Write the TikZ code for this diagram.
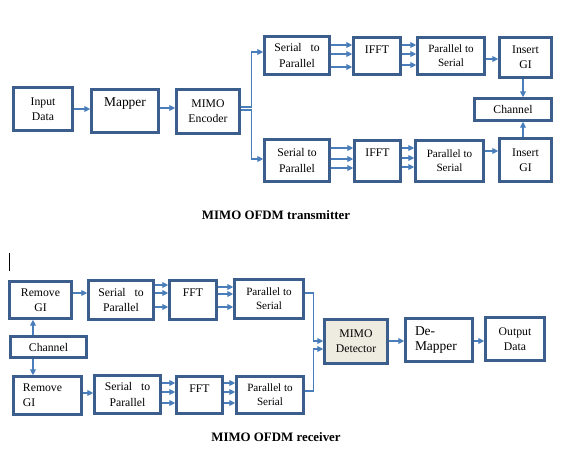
\documentclass[tikz,border=0pt]{standalone}
\usepackage{fontspec}
\setmainfont{Liberation Serif}
\usetikzlibrary{arrows.meta}
\definecolor{bordo}{HTML}{3B5E8C}
\definecolor{blufreccia}{HTML}{4A7EBB}
\definecolor{rilevatore}{HTML}{EEECE1}

\begin{document}
\begin{tikzpicture}[x=0.03cm, y=-0.03cm,
    font=\fontsize{10}{13}\selectfont,
    blocco/.style={draw=bordo, line width=2.2pt, fill=white, align=center, inner sep=1pt},
    misure/.style 2 args={minimum width=#1*0.03cm, minimum height=#2*0.03cm},
    sopra/.style={label={[anchor=north, inner sep=0pt, yshift=-0.27cm]north:#1}},
    freccia/.style={draw=blufreccia, line width=0.9pt, -{Triangle[length=5pt,width=5pt]}},
    ps/.style={font=\fontsize{9.5}{12}\selectfont},
    grande/.style={font=\fontsize{11.5}{13}\selectfont},
    titolo/.style={font=\fontsize{11}{13}\selectfont\bfseries}]
    \useasboundingbox (0,0) rectangle (563,449);

    % Trasmettitore
    \node[blocco, misure={59}{43}] (inp) at (43,109) {Input\\Data};
    \node[blocco, misure={67}{43}, label={[grande, anchor=north, inner sep=0pt, yshift=-0.27cm]north:Mapper}] (map) at (125,111) {};
    \node[blocco, misure={63}{44}] (enc) at (208,111.5) {MIMO\\Encoder};
    \node[blocco, misure={65}{38}] (sp1) at (297,55.5) {Serial~~ to\\Parallel};
    \node[blocco, misure={47}{37}, sopra=IFFT] (ifft1) at (377,56) {};
    \node[blocco, ps, misure={67}{37}] (ps1) at (451,56) {Parallel to\\Serial};
    \node[blocco, misure={52}{40}] (gi1) at (525.5,57.5) {Insert\\GI};
    \node[blocco, misure={77}{22}] (ch1) at (513,109.5) {Channel};
    \node[blocco, misure={65}{42}] (sp2) at (297,160.5) {Serial to\\Parallel};
    \node[blocco, misure={46}{41}, sopra=IFFT] (ifft2) at (377.5,161) {};
    \node[blocco, ps, misure={68}{41}] (ps2) at (449.5,161) {Parallel to\\Serial};
    \node[blocco, misure={52}{43}] (gi2) at (525.5,160) {Insert\\GI};
    \node[titolo] (ttx) at (276,215) {MIMO OFDM transmitter};

    \draw[freccia] (inp.east |- 0,109) -- (map.west |- 0,109);
    \draw[freccia] (map.east |- 0,108) -- (enc.west |- 0,108);
    \draw[freccia] (enc.east |- 0,107) -- ++(11,0) |- (sp1.west |- 0,52);
    \draw[freccia] (enc.east |- 0,110) -- ++(11,0) |- (sp2.west |- 0,159);
    \foreach \y in {45,54,67}
        \draw[freccia] (sp1.east |- 0,\y) -- (ifft1.west |- 0,\y);
    \foreach \y in {45,54,65}
        \draw[freccia] (ifft1.east |- 0,\y) -- (ps1.west |- 0,\y);
    \draw[freccia] (ps1.east |- 0,59) -- (gi1.west |- 0,59);
    \draw[freccia] (gi1.south -| 523,0) -- (ch1.north -| 523,0);
    \foreach \y in {148,159,168}
        \draw[freccia] (sp2.east |- 0,\y) -- (ifft2.west |- 0,\y);
    \foreach \y in {148,158,167}
        \draw[freccia] (ifft2.east |- 0,\y) -- (ps2.west |- 0,\y);
    \draw[freccia] (ps2.east |- 0,151) -- (gi2.west |- 0,151);
    \draw[freccia] (gi2.north -| 523,0) -- (ch1.south -| 523,0);

    % Cursore
    \draw[black, line width=0.8pt] (9,253) -- (9,271);

    % Ricevitore
    \node[blocco, misure={62}{37}] (rg1) at (40.5,300) {Remove\\GI};
    \node[blocco, misure={65}{39}] (sp3) at (121,300) {Serial~~ to\\Parallel};
    \node[blocco, misure={47}{39}, sopra=FFT] (fft1) at (193,300) {};
    \node[blocco, ps, misure={69}{39}] (ps3) at (269,299) {Parallel to\\Serial};
    \node[blocco, misure={76}{21}] (ch2) at (48.5,347) {Channel};
    \node[blocco, misure={68}{38}, align=left, text width=1.47cm] (rg2) at (47.5,395.5) {Remove\\GI};
    \node[blocco, misure={66}{38}] (sp4) at (127.5,394.5) {Serial~~ to\\Parallel};
    \node[blocco, misure={46}{37}, sopra=FFT] (fft2) at (199.5,395) {};
    \node[blocco, ps, misure={67}{37}] (ps4) at (270,395) {Parallel to\\Serial};
    \node[blocco, misure={63}{44}, fill=rilevatore] (det) at (356,341.5) {MIMO\\Detector};
    \node[blocco, grande, misure={67}{43}, align=left, text width=1.44cm] (dem) at (439,340) {De-\\Mapper};
    \node[blocco, misure={59}{43}] (outd) at (515,339) {Output\\Data};
    \node[titolo] (trx) at (276,437) {MIMO OFDM receiver};

    \draw[freccia] (ch2.north -| 33,0) -- (rg1.south -| 33,0);
    \draw[freccia] (ch2.south -| 33,0) -- (rg2.north -| 33,0);
    \draw[freccia] (rg1.east |- 0,293) -- (sp3.west |- 0,293);
    \foreach \y in {285,293,307}
        \draw[freccia] (sp3.east |- 0,\y) -- (fft1.west |- 0,\y);
    \foreach \y in {287,294,307}
        \draw[freccia] (fft1.east |- 0,\y) -- (ps3.west |- 0,\y);
    \draw[freccia] (rg2.east |- 0,393) -- (sp4.west |- 0,393);
    \foreach \y in {383,392,403}
        \draw[freccia] (sp4.east |- 0,\y) -- (fft2.west |- 0,\y);
    \foreach \y in {383,392,403}
        \draw[freccia] (fft2.east |- 0,\y) -- (ps4.west |- 0,\y);
    \draw[freccia] (ps3.east |- 0,293) -- ++(9,0) |- (det.west |- 0,341);
    \draw[freccia] (ps4.east |- 0,391) -- ++(9,0) |- (det.west |- 0,349);
    \draw[freccia] (det.east |- 0,341) -- (dem.west |- 0,341);
    \draw[freccia] (dem.east |- 0,341) -- (outd.west |- 0,341);
\end{tikzpicture}
\end{document}
